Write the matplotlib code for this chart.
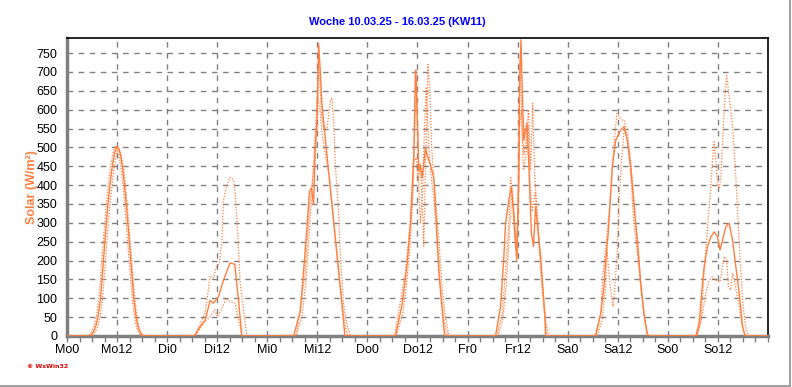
import matplotlib
matplotlib.use("Agg")
import matplotlib.pyplot as plt
from matplotlib.lines import Line2D
from matplotlib.ticker import MultipleLocator

# ---------------- data (hour of day, W/m²) per weekday Mo..So ----------------
day_labels = ["Mo", "Di", "Mi", "Do", "Fr", "Sa", "So"]
title = "Woche 10.03.25 - 16.03.25 (KW11)"
ylabel = "Solar (W/m²)"

solid_hours = [
    [5.5, 6, 6.5, 7, 7.5, 8, 8.5, 9, 9.5, 10, 10.5, 11, 11.5, 12, 12.5, 13, 13.5, 14, 14.5, 15, 15.5, 16, 16.5, 17, 17.5, 18, 18.5],
    [6.5, 7.9, 9.1, 10.3, 11.1, 12.3, 13.5, 15.1, 16.2, 17.1, 17.9],
    [6.3, 7.9, 8.7, 9.5, 10.1, 10.6, 11.1, 11.5, 11.9, 12.3, 12.7, 13.1, 13.9, 14.7, 15.5, 16.3, 17.1, 17.9, 18.6],
    [6.7, 8.3, 9.5, 10.3, 10.7, 11.1, 11.5, 11.6, 12.1, 12.3, 12.7, 13.1, 13.5, 13.9, 14.3, 15.1, 15.9, 16.3, 16.7, 17.1, 17.8, 18.5],
    [6.7, 7.9, 8.7, 9.1, 9.9, 10.5, 10.9, 11.3, 11.8, 12.3, 12.5, 12.8, 13.1, 13.5, 14.2, 14.7, 15.3, 15.8, 16.3, 17.5, 18.1, 18.5, 18.7],
    [6.7, 7.9, 8.7, 9.1, 9.7, 10.2, 10.7, 11.5, 12.7, 13.5, 14.3, 15.1, 15.9, 16.7, 17.5, 18.3, 19.0, 19.3],
    [6.7, 7.5, 8.1, 8.7, 9.5, 10.3, 11.1, 11.9, 12.5, 13.1, 13.9, 14.7, 15.5, 16.3, 17.1, 17.9, 18.5],
]
solid_values = [
    [0, 5, 15, 30, 55, 95, 165, 240, 310, 370, 420, 460, 490, 502, 495, 470, 430, 375, 310, 240, 170, 100, 55, 25, 10, 2, 0],
    [0, 25, 42, 94, 87, 104, 148, 194, 190, 95, 0],
    [0, 65, 171, 286, 383, 392, 348, 498, 569, 775, 701, 613, 525, 437, 348, 260, 171, 83, 0],
    [0, 83, 189, 295, 392, 472, 701, 705, 525, 437, 455, 419, 455, 498, 480, 454, 419, 348, 260, 171, 83, 0],
    [0, 78, 210, 299, 360, 396, 343, 272, 201, 431, 696, 785, 652, 519, 564, 449, 272, 237, 343, 210, 122, 60, 0],
    [0, 60, 131, 201, 272, 360, 449, 519, 546, 555, 519, 449, 343, 254, 140, 60, 7, 0],
    [0, 34, 113, 184, 237, 263, 276, 263, 228, 254, 290, 299, 254, 184, 113, 25, 0],
]

dotB_hours = [
    [5.1, 5.6, 6.1, 6.6, 7.1, 7.6, 8.1, 8.6, 9.1, 9.6, 10.1, 10.6, 11.1, 11.6, 12.1, 12.6, 13.1, 13.6, 14.1, 14.6, 15.1, 15.6, 16.1, 16.6, 17.1, 17.6, 18.2],
    [6.6, 9.1, 10.3, 11.1, 11.8, 12.5, 13.1, 13.5, 14.3, 15.1, 15.9, 16.3, 16.9, 17.5, 18.3, 19.1],
    [7.0, 9.1, 10.3, 11.1, 11.9, 12.3, 13.0, 13.5, 14.3, 15.1, 15.5, 15.9, 16.3, 17.0, 17.5, 18.3, 19.1, 19.9],
    [6.5, 9.1, 9.9, 10.7, 11.1, 11.7, 12.1, 12.7, 13.1, 13.5, 13.9, 14.5, 14.9, 15.4, 15.8, 16.3, 17.1, 17.9, 18.7, 19.5],
    [7.0, 8.3, 9.1, 9.9, 10.3, 10.8, 11.3, 11.9, 12.3, 12.6, 13.1, 13.5, 14.0, 14.6, 15.1, 15.6, 16.1, 16.7, 17.3, 18.0, 18.7, 19.4],
    [6.5, 8.0, 8.3, 9.1, 9.9, 10.7, 11.3, 11.8, 12.3, 13.1, 13.5, 14.3, 14.9, 15.5, 16.1, 16.7, 17.5, 18.3, 19.1, 19.5],
    [6.9, 7.9, 8.7, 9.5, 10.2, 10.7, 11.1, 11.5, 11.9, 12.3, 12.7, 13.1, 13.7, 14.1, 14.7, 15.5, 16.3, 17.1, 17.9, 18.7, 19.5],
]
dotB_values = [
    [0, 5, 15, 30, 55, 95, 165, 240, 310, 370, 420, 460, 490, 505, 495, 470, 430, 375, 310, 240, 170, 100, 55, 25, 10, 2, 0],
    [0, 61, 157, 155, 184, 193, 246, 360, 400, 421, 413, 378, 272, 140, 69, 0],
    [0, 172, 366, 437, 542, 728, 587, 551, 551, 622, 631, 569, 454, 348, 216, 83, 30, 0],
    [0, 171, 260, 348, 464, 472, 410, 446, 366, 238, 437, 720, 657, 498, 437, 366, 260, 127, 48, 0],
    [0, 60, 170, 300, 420, 380, 300, 210, 600, 730, 540, 480, 520, 600, 440, 617, 420, 330, 230, 120, 40, 0],
    [0, 60, 148, 237, 325, 449, 537, 590, 581, 572, 572, 537, 484, 413, 334, 219, 131, 51, 7, 0],
    [0, 34, 166, 290, 378, 466, 515, 466, 405, 390, 422, 511, 643, 690, 634, 555, 422, 246, 95, 16, 0],
]

dotC_hours = [
    [6.0, 6.5, 7.0, 7.5, 8.0, 8.5, 9.0, 9.5, 10.0, 10.5, 11.0, 11.5, 12.0, 12.5, 13.0, 13.5, 14.0, 14.5, 15.0, 15.5, 16.0, 16.5, 17.0, 17.5, 18.0, 18.5, 19.4],
    [6.8, 8.7, 10.3, 11.4, 12.1, 13.1, 14.2, 15.1, 16.3, 16.9, 17.5, 17.9],
    [6.8, 8.3, 9.3, 10.1, 10.8, 11.4, 12.0, 12.6, 13.3, 14.1, 14.9, 15.7, 16.5, 17.3, 18.1, 18.8, 19.3],
    [6.9, 8.5, 9.5, 10.3, 10.9, 11.5, 11.8, 12.2, 12.7, 13.2, 13.7, 14.1, 14.6, 15.2, 16.0, 16.8, 17.6, 18.4, 19.1],
    [7.3, 8.5, 9.3, 10.0, 10.6, 11.1, 11.6, 12.1, 12.5, 12.9, 13.4, 14.0, 14.5, 15.0, 15.5, 16.2, 16.9, 17.6, 18.3, 19.0],
    [7.0, 8.3, 9.1, 9.4, 9.7, 10.2, 10.6, 10.9, 11.3, 11.9, 12.3, 12.9, 13.5, 14.0, 14.5, 15.3, 15.8, 16.3, 17.0, 17.7, 18.5, 19.2],
    [7.0, 8.3, 9.1, 9.9, 10.7, 11.5, 12.5, 13.5, 14.1, 14.5, 15.0, 15.5, 15.9, 16.5, 17.1, 17.7, 18.3, 18.8],
]
dotC_values = [
    [0, 5, 15, 30, 55, 95, 165, 240, 310, 370, 420, 460, 490, 495, 480, 450, 400, 340, 270, 200, 130, 75, 35, 15, 5, 2, 0],
    [0, 34, 51, 69, 51, 73, 100, 91, 87, 51, 25, 0],
    [0, 50, 150, 280, 400, 520, 640, 600, 520, 470, 420, 330, 240, 150, 70, 20, 0],
    [0, 60, 150, 250, 380, 600, 680, 430, 300, 380, 560, 660, 520, 430, 350, 240, 120, 40, 0],
    [0, 50, 140, 270, 370, 330, 240, 300, 560, 600, 440, 480, 560, 400, 330, 380, 280, 160, 70, 0],
    [0, 42, 131, 228, 190, 131, 95, 78, 131, 228, 360, 466, 546, 537, 500, 400, 300, 260, 200, 110, 40, 0],
    [0, 60, 113, 148, 157, 148, 143, 210, 201, 131, 122, 166, 148, 113, 78, 34, 8, 0],
]


def week_series(hours, values):
    xs, ys = [0.0], [0.0]
    for d, (hh, vv) in enumerate(zip(hours, values)):
        xs += [24 * d + h for h in hh]
        ys += list(vv)
    xs.append(168.0)
    ys.append(0.0)
    return xs, ys


orange = "#FF7F3F"
fig = plt.figure(figsize=(7.92, 3.87), dpi=100)
fig.patch.set_facecolor("white")
ax = fig.add_axes([67 / 792, 51 / 387, 701 / 792, 298 / 387])

for hrs, vals, ls, lw in [(dotB_hours, dotB_values, (0, (1, 1.3)), 0.9),
                          (dotC_hours, dotC_values, (0, (1, 1.3)), 0.9),
                          (solid_hours, solid_values, "-", 1.0)]:
    x, y = week_series(hrs, vals)
    ax.plot(x, y, color=orange, linestyle=ls, linewidth=lw, zorder=3)

ax.set_xlim(0, 168)
ax.set_ylim(0, 790)
ax.xaxis.set_major_locator(MultipleLocator(12))
ax.xaxis.set_minor_locator(MultipleLocator(3))
ax.yaxis.set_major_locator(MultipleLocator(50))
xt = [12 * i for i in range(14)]
ax.set_xticks(xt)
ax.set_xticklabels([f"{day_labels[i // 2]}{0 if i % 2 == 0 else 12}" for i in range(14)])
ax.grid(True, which="major", color="#808080", linestyle=(0, (4, 4)), linewidth=1)
ax.set_axisbelow(True)

for s in ["left", "bottom"]:
    ax.spines[s].set_color("#808080")
    ax.spines[s].set_linewidth(2.5)
for s in ["top", "right"]:
    ax.spines[s].set_color("black")
    ax.spines[s].set_linewidth(1.2)

font = "Liberation Sans"
ax.tick_params(axis="x", which="both", direction="out", length=4, width=1, color="#808080",
               labelsize=9, pad=2)
ax.tick_params(axis="y", which="both", length=0, labelsize=9, pad=7)
for lab in ax.get_xticklabels() + ax.get_yticklabels():
    lab.set_fontfamily(font)

ax.set_ylabel(ylabel, color=orange, fontsize=9, fontweight="bold", fontfamily=font)
ax.yaxis.set_label_coords(-29 / 701, 0.5)
fig.text(397 / 792, 1 - 22 / 387, title, color="#0000FF", fontsize=8, fontweight="bold",
         fontfamily=font, ha="center", va="center")
fig.text(27 / 792, 1 - 367 / 387, "© WsWin32", color="#E00000", fontsize=4.5, fontweight="bold",
         fontfamily="DejaVu Sans", ha="left", va="center")

# window frame edges
fig.add_artist(Line2D([0, 789.5 / 792], [1.5 / 387, 1.5 / 387], transform=fig.transFigure,
                      color="#A0A0A0", linewidth=1.5))
fig.add_artist(Line2D([789.5 / 792, 789.5 / 792], [1.5 / 387, 1], transform=fig.transFigure,
                      color="#A0A0A0", linewidth=1.5))

fig.savefig("out.png", dpi=100)
